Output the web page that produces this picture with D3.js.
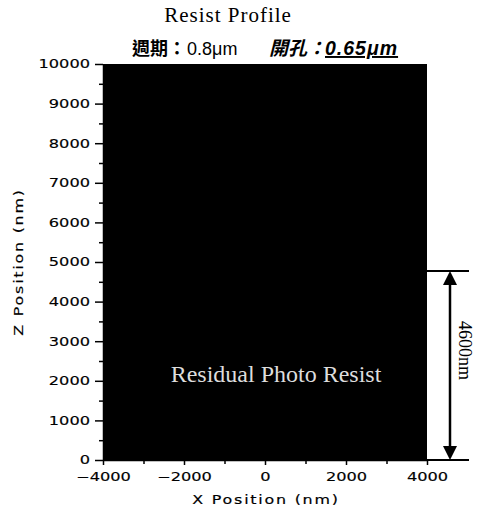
<!DOCTYPE html>
<html><head><meta charset="utf-8">
<script src="https://cdn.jsdelivr.net/npm/d3@7"></script>
<style>body{margin:0;background:#fff}svg{display:block}</style>
</head><body>
<svg id="c" width="481" height="524"></svg>
<script>
// ---- data ----
const xDomain = [-4000, 4000];
const zDomain = [0, 10000];
const xTicksMajor = [-4000, -2000, 0, 2000, 4000];
const xTicksMinor = [-3000, -1000, 1000, 3000];
const zTicksMajor = [0, 1000, 2000, 3000, 4000, 5000, 6000, 7000, 8000, 9000, 10000];
const zTicksMinor = [500, 1500, 2500, 3500, 4500, 5500, 6500, 7500, 8500, 9500];
const resistRegion = [{ x0: -4000, x1: 4000, z0: 0, z1: 10000 }];
const thicknessRange = [0, 4770];
const thicknessLabel = "4600nm";
const titleText = "Resist Profile";
const subtitleParts = ["週期：", "0.8μm", "開孔：", "0.65μm"];
const regionLabel = "Residual Photo Resist";
const xLabel = "X Position (nm)";
const zLabel = "Z Position (nm)";

// ---- layout ----
const svg = d3.select("#c");
const x = d3.scaleLinear().domain(xDomain).range([103, 427]);
const z = d3.scaleLinear().domain(zDomain).range([460, 64]);
const tickFont = "DejaVu Sans, sans-serif";
const SX = 1.35;

// resist region
svg.selectAll("rect.resist").data(resistRegion).join("rect")
  .attr("class", "resist")
  .attr("x", d => x(d.x0)).attr("y", d => z(d.z1))
  .attr("width", d => x(d.x1) - x(d.x0)).attr("height", d => z(d.z0) - z(d.z1))
  .attr("fill", "#000");

// axes
function styleAxis(g) {
  g.selectAll("path.domain").attr("stroke", "#000").attr("stroke-width", 1.5);
  g.selectAll(".tick line").attr("stroke", "#000").attr("stroke-width", 1.5);
  g.selectAll("text").attr("font-family", tickFont).attr("font-size", 12)
    .attr("fill", "#000").attr("stroke", "#000").attr("stroke-width", 0.15)
    .attr("transform", `scale(${SX},1)`);
}
const gx = svg.append("g").attr("transform", `translate(0,${z(0)})`)
  .call(d3.axisBottom(x).tickValues(xTicksMajor).tickSize(5).tickSizeOuter(0).tickPadding(5).tickFormat(d3.format("d")));
styleAxis(gx);
gx.selectAll("text").attr("dy", "0.95em");
svg.append("g").attr("transform", `translate(0,${z(0)})`)
  .call(d3.axisBottom(x).tickValues(xTicksMinor).tickSize(4).tickFormat(""))
  .call(g => g.select("path.domain").remove())
  .call(styleAxis);

const gz = svg.append("g").attr("transform", `translate(${x(-4000)},0)`)
  .call(d3.axisLeft(z).tickValues(zTicksMajor).tickSize(8).tickSizeOuter(0).tickPadding(5).tickFormat(d3.format("d")));
styleAxis(gz);
gz.selectAll(".tick text").attr("x", -13 / SX);
svg.append("g").attr("transform", `translate(${x(-4000)},0)`)
  .call(d3.axisLeft(z).tickValues(zTicksMinor).tickSize(4).tickFormat(""))
  .call(g => g.select("path.domain").remove())
  .call(styleAxis);

// axis labels
svg.append("text").attr("transform", `translate(266,504) scale(${SX},1)`).attr("text-anchor", "middle")
  .attr("font-family", tickFont).attr("font-size", 11.8).attr("letter-spacing", "1.3px")
  .attr("stroke", "#000").attr("stroke-width", 0.15)
  .text(xLabel);
svg.append("text").attr("transform", `translate(23,${(z(0) + z(10000)) / 2}) rotate(-90) scale(${SX},1)`)
  .attr("text-anchor", "middle")
  .attr("font-family", tickFont).attr("font-size", 11.8).attr("letter-spacing", "1.3px")
  .attr("stroke", "#000").attr("stroke-width", 0.15)
  .text(zLabel);

// title
svg.append("text").attr("x", 228).attr("y", 22).attr("text-anchor", "middle")
  .attr("font-family", "Liberation Serif, serif").attr("font-size", 21).attr("letter-spacing", "1px")
  .text(titleText);

// subtitle
const sub = svg.append("text").attr("y", 55).attr("fill", "#000");
sub.append("tspan").attr("x", 132).attr("font-family", "Noto Sans CJK TC").attr("font-size", 18)
  .attr("font-weight", "bold").text(subtitleParts[0]);
sub.append("tspan").attr("x", 187).attr("font-family", "Liberation Sans, sans-serif").attr("font-size", 18)
  .text(subtitleParts[1]);
sub.append("tspan").attr("x", 269).attr("font-family", "Noto Sans CJK TC").attr("font-size", 19).attr("font-weight", "bold")
  .attr("font-style", "italic").text(subtitleParts[2]);
sub.append("tspan").attr("x", 325).attr("font-family", "Liberation Sans, sans-serif").attr("font-weight", "bold")
  .attr("font-style", "italic").attr("font-size", 19.5).attr("letter-spacing", "1px")
  .attr("text-decoration", "underline").text(subtitleParts[3]);

// region label
svg.append("text").attr("x", 276).attr("y", 382).attr("text-anchor", "middle")
  .attr("font-family", "Liberation Serif, serif").attr("font-size", 24).attr("fill", "#ddd")
  .text(regionLabel);

// thickness annotation
const ax = 450, yTop = z(thicknessRange[1]), yBot = z(thicknessRange[0]);
svg.append("line").attr("x1", x(4000)).attr("x2", 469).attr("y1", yTop).attr("y2", yTop)
  .attr("stroke", "#000").attr("stroke-width", 2);
svg.append("line").attr("x1", x(4000)).attr("x2", 469).attr("y1", yBot).attr("y2", yBot)
  .attr("stroke", "#000").attr("stroke-width", 2);
svg.append("line").attr("x1", ax).attr("x2", ax).attr("y1", yTop + 10).attr("y2", yBot - 10)
  .attr("stroke", "#000").attr("stroke-width", 2.5);
svg.append("path").attr("d", `M${ax},${yTop}L${ax - 7},${yTop + 14}L${ax + 7},${yTop + 14}Z`).attr("fill", "#000");
svg.append("path").attr("d", `M${ax},${yBot}L${ax - 7},${yBot - 14}L${ax + 7},${yBot - 14}Z`).attr("fill", "#000");
svg.append("text").attr("transform", `translate(459,${(yTop + yBot) / 2 - 15}) rotate(90)`)
  .attr("text-anchor", "middle")
  .attr("font-family", "Liberation Serif, serif").attr("font-size", 18)
  .text(thicknessLabel);
</script>
</body></html>
